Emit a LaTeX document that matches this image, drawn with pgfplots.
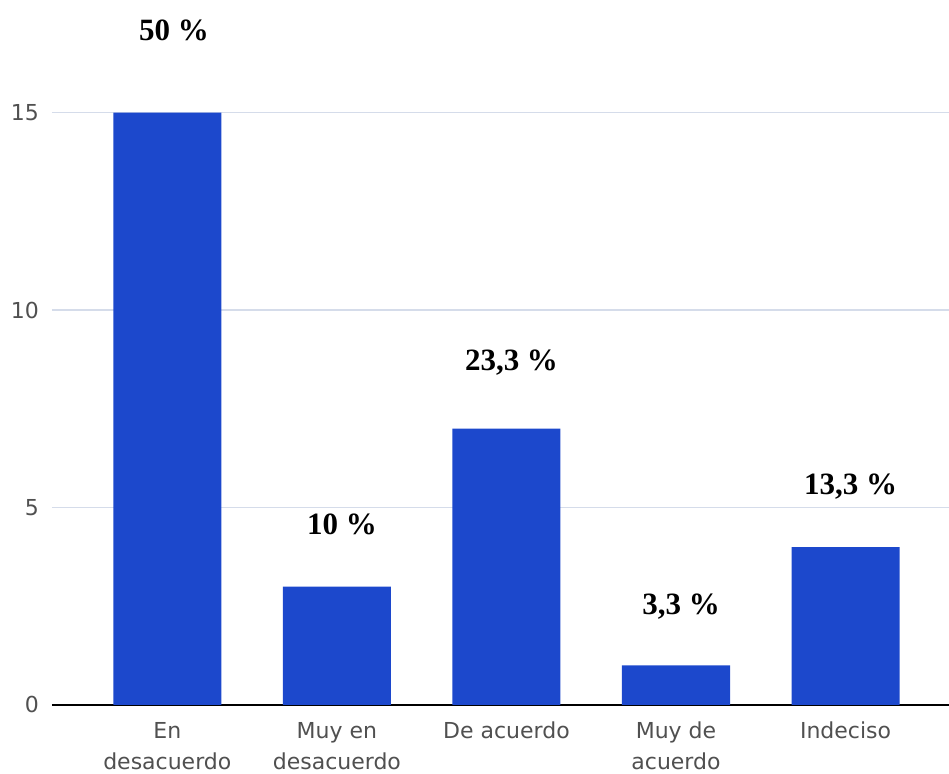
\documentclass[border=0pt]{standalone}
\usepackage{pgfplots}
\pgfplotsset{compat=1.18}
\usepackage{fontspec}
\setmainfont{DejaVu Sans}
\newfontfamily\labelfont{Liberation Serif}
\definecolor{barblue}{HTML}{1C48CC}
\definecolor{gridc}{HTML}{D5DCEA}
\definecolor{tickc}{HTML}{505050}
\begin{document}
\begin{tikzpicture}
\begin{axis}[
  scale only axis, width=448.5pt, height=352.5pt,
  xmin=-0.68, xmax=4.61, ymin=0, ymax=17.85,
  axis x line=bottom, axis y line=left,
  y axis line style={draw=none},
  x axis line style={-, black, line width=1pt},
  major tick length=0pt,
  ytick={0,5,10,15},
  ymajorgrids, grid style={gridc, line width=0.6pt},
  xtick={0,1,2,3,4},
  xticklabels={{En\\desacuerdo},{Muy en\\desacuerdo},{De acuerdo},{Muy de\\acuerdo},{Indeciso}},
  xticklabel style={align=center, font=\fontsize{11}{15.5}\selectfont, text=tickc, yshift=-5pt},
  yticklabel style={font=\fontsize{11}{13}\selectfont, text=tickc, xshift=-3pt},
  /pgf/number format/assume math mode=true,
  clip=false,
]
\addplot[ybar, bar width=0.637, fill=barblue, draw=none] coordinates {(0,15) (1,3) (2,7) (3,1) (4,4)};
\addplot[draw=none, mark=none, nodes near coords, point meta=explicit symbolic,
  every node near coord/.style={font=\labelfont\bfseries\fontsize{15.5}{17}\selectfont, anchor=center, text=black}]
  coordinates {(0.04,17.09) [50 \%] (1.03,4.56) [10 \%] (2.03,8.66) [23,3 \%] (3.03,2.48) [3,3 \%] (4.03,5.52) [13,3 \%]};
\end{axis}
\pgfresetboundingbox
\path[use as bounding box] ([xshift=-26pt,yshift=-34.5pt]current axis.south west) rectangle (current axis.north east);
\end{tikzpicture}
\end{document}
